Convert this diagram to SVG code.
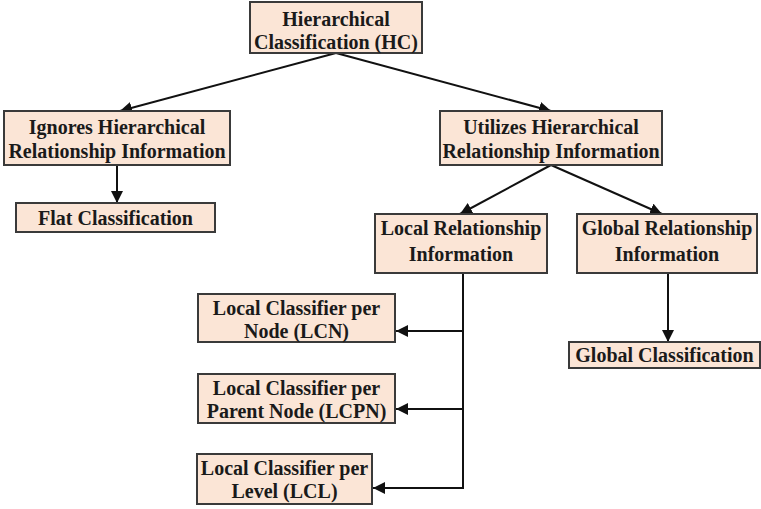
<svg xmlns="http://www.w3.org/2000/svg" width="761" height="509" viewBox="0 0 761 509">
  <style>
    .box { fill: #fbe5d6; stroke: #3a3a3a; stroke-width: 2; }
    .lbl { font-family: "Liberation Serif", "Times New Roman", serif; font-weight: bold; font-size: 20px; fill: #1a1a1a; text-anchor: middle; }
    .wire { fill: none; stroke: #111; stroke-width: 2; }
  </style>
  <defs>
    <marker id="arrow" markerUnits="userSpaceOnUse" markerWidth="12" markerHeight="12" viewBox="0 0 12 12" refX="12" refY="6" orient="auto">
      <path d="M0,0 L12,6 L0,12 Z" fill="#111"/>
    </marker>
  </defs>
  <rect width="761" height="509" fill="#ffffff"/>

  <g id="connectors">
    <line class="wire" x1="336" y1="53" x2="120" y2="111" marker-end="url(#arrow)"/>
    <line class="wire" x1="336" y1="53" x2="551" y2="111" marker-end="url(#arrow)"/>
    <line class="wire" x1="117" y1="165" x2="117" y2="203" marker-end="url(#arrow)"/>
    <line class="wire" x1="551" y1="165" x2="460" y2="214" marker-end="url(#arrow)"/>
    <line class="wire" x1="551" y1="165" x2="662" y2="214" marker-end="url(#arrow)"/>
    <line class="wire" x1="463" y1="273" x2="463" y2="489"/>
    <line class="wire" x1="464" y1="331" x2="396" y2="331" marker-end="url(#arrow)"/>
    <line class="wire" x1="464" y1="409" x2="396" y2="409" marker-end="url(#arrow)"/>
    <line class="wire" x1="464" y1="488" x2="373" y2="488" marker-end="url(#arrow)"/>
    <line class="wire" x1="668" y1="273" x2="668" y2="342" marker-end="url(#arrow)"/>
  </g>

  <g id="hc">
    <rect class="box" x="250" y="2" width="172" height="51"/>
    <text class="lbl" x="336" y="26">Hierarchical</text>
    <text class="lbl" x="336" y="49">Classification (HC)</text>
  </g>

  <g id="ignores">
    <rect class="box" x="4" y="111" width="226" height="54"/>
    <text class="lbl" x="117" y="134">Ignores Hierarchical</text>
    <text class="lbl" x="117" y="158">Relationship Information</text>
  </g>

  <g id="flat">
    <rect class="box" x="16" y="203" width="199" height="29"/>
    <text class="lbl" x="115.5" y="225">Flat Classification</text>
  </g>

  <g id="utilizes">
    <rect class="box" x="440" y="111" width="222" height="54"/>
    <text class="lbl" x="551" y="134">Utilizes Hierarchical</text>
    <text class="lbl" x="551" y="158">Relationship Information</text>
  </g>

  <g id="local-rel">
    <rect class="box" x="375" y="214" width="172" height="59"/>
    <text class="lbl" x="461" y="235">Local Relationship</text>
    <text class="lbl" x="461" y="261">Information</text>
  </g>

  <g id="global-rel">
    <rect class="box" x="577" y="214" width="180" height="59"/>
    <text class="lbl" x="667" y="235">Global Relationship</text>
    <text class="lbl" x="667" y="261">Information</text>
  </g>

  <g id="lcn">
    <rect class="box" x="198" y="294" width="197" height="48"/>
    <text class="lbl" x="296.5" y="315">Local Classifier per</text>
    <text class="lbl" x="296.5" y="338">Node (LCN)</text>
  </g>

  <g id="lcpn">
    <rect class="box" x="198" y="374" width="197" height="49"/>
    <text class="lbl" x="296.5" y="395">Local Classifier per</text>
    <text class="lbl" x="296.5" y="418">Parent Node (LCPN)</text>
  </g>

  <g id="lcl">
    <rect class="box" x="197" y="454" width="175" height="50"/>
    <text class="lbl" x="284.5" y="475">Local Classifier per</text>
    <text class="lbl" x="284.5" y="498">Level (LCL)</text>
  </g>

  <g id="global-cls">
    <rect class="box" x="569" y="342" width="191" height="26"/>
    <text class="lbl" x="664.5" y="362">Global Classification</text>
  </g>
</svg>
